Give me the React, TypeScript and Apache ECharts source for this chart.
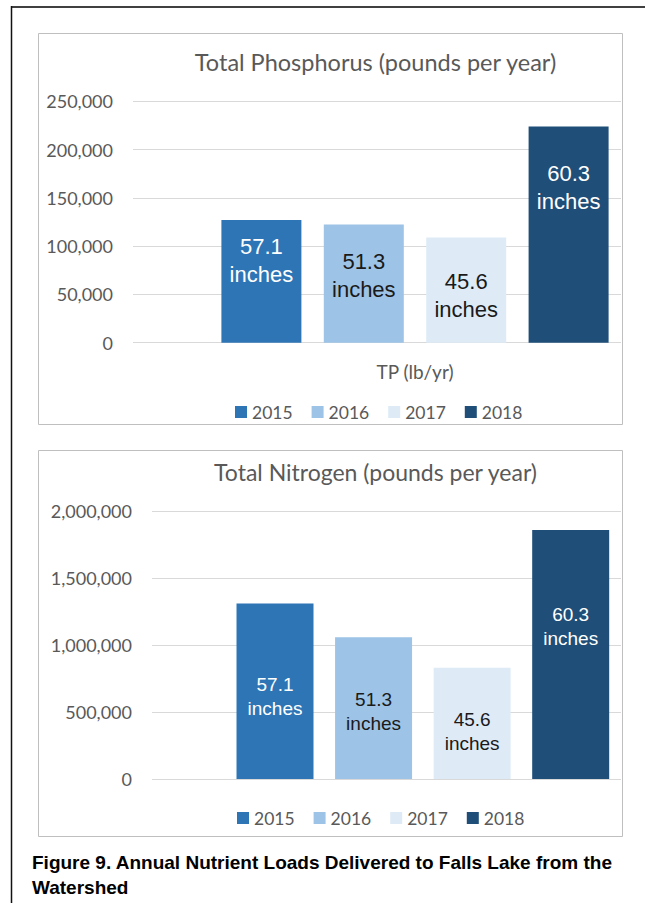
import React, { useEffect, useRef } from "react";
import * as echarts from "echarts";

// ---- data ----
const categories = ["TP (lb/yr)"];
const years = ["2015", "2016", "2017", "2018"];
const tpValues = [127000, 122500, 109000, 224000];
const tnValues = [1310000, 1057000, 831000, 1858000];
const rainfall = ["57.1", "51.3", "45.6", "60.3"];
const tpTitle = "Total Phosphorus (pounds per year)";
const tnTitle = "Total Nitrogen (pounds per year)";
const captionLines = [
  "Figure 9. Annual Nutrient Loads Delivered to Falls Lake from the",
  "Watershed",
];

// ---- styles ----
const barColors = ["#2E75B6", "#9DC3E6", "#DEEBF7", "#1F4E79"];
const labelColors = ["#ffffff", "#1a1a1a", "#1a1a1a", "#ffffff"];
const tpLabelDist = [12, 23, 30, 33.5];
const tnLabelDist = [69, 50, 39.5, 72];
const UI_FONT = "Lato, 'Open Sans', sans-serif";
const GRAY = "#595959";
const GRID_LINE = "#D9D9D9";

export default function App() {
  const ref = useRef<HTMLDivElement>(null);

  useEffect(() => {
    if (!ref.current) return;
    const chart = echarts.init(ref.current, null, { renderer: "svg" });
    const H = 903;
    const W = 645;

    const axisLabelStyle = {
      color: GRAY,
      fontFamily: UI_FONT,
      fontSize: 18,
    };
    const legendTextStyle = {
      color: GRAY,
      fontFamily: UI_FONT,
      fontSize: 17.5,
    };

    const makeBarSeries = (
      values: number[],
      axisIndex: number,
      barWidth: number,
      fontSize: number,
      lineHeight: number,
      dists: number[]
    ) =>
      years.map((y, i) => ({
        type: "bar",
        name: y,
        xAxisIndex: axisIndex,
        yAxisIndex: axisIndex,
        data: [values[i]],
        barWidth,
        barGap: "28%",
        itemStyle: { color: barColors[i] },
        label: {
          show: true,
          position: "insideTop",
          distance: dists[i],
          formatter: () => `${rainfall[i]}\ninches`,
          color: labelColors[i],
          fontFamily: "'Liberation Sans', Arial, sans-serif",
          fontSize,
          lineHeight,
          align: "center",
        },
      }));

    const option: any = {
      animation: false,
      graphic: [
        {
          type: "line",
          shape: { x1: 11, y1: 7, x2: 645, y2: 7 },
          style: { stroke: "#404040", lineWidth: 2 },
        },
        {
          type: "line",
          shape: { x1: 11.5, y1: 6, x2: 11.5, y2: 903 },
          style: { stroke: "#111", lineWidth: 1.5 },
        },
        {
          type: "rect",
          shape: { x: 38.5, y: 33.5, width: 584, height: 391 },
          style: { fill: "none", stroke: "#BFBFBF", lineWidth: 1 },
        },
        {
          type: "rect",
          shape: { x: 38.5, y: 450.5, width: 584, height: 386 },
          style: { fill: "none", stroke: "#BFBFBF", lineWidth: 1 },
        },
        {
          type: "text",
          x: 375.5,
          y: 62,
          style: {
            text: tpTitle,
            align: "center",
            verticalAlign: "middle",
            fill: GRAY,
            fontFamily: UI_FONT,
            fontSize: 23.5,
          },
        },
        {
          type: "text",
          x: 375.5,
          y: 472,
          style: {
            text: tnTitle,
            align: "center",
            verticalAlign: "middle",
            fill: GRAY,
            fontFamily: UI_FONT,
            fontSize: 23,
          },
        },
        ...captionLines.map((t, i) => ({
          type: "text",
          x: 32,
          y: 862.5 + i * 24.5,
          style: {
            text: t,
            align: "left",
            verticalAlign: "middle",
            fill: "#000",
            fontFamily: "'Liberation Sans', Arial, sans-serif",
            fontWeight: "bold",
            fontSize: 19,
          },
        })),
      ],
      legend: [
        {
          data: years,
          left: 235,
          top: 403,
          padding: 0,
          itemWidth: 12,
          itemHeight: 12,
          itemGap: 19,
          icon: "rect",
          textStyle: { ...legendTextStyle },
        },
        {
          data: years,
          left: 237,
          top: 809,
          padding: 0,
          itemWidth: 12,
          itemHeight: 12,
          itemGap: 19,
          icon: "rect",
          textStyle: { ...legendTextStyle },
        },
      ],
      grid: [
        { left: 133, right: W - 621, top: 101.3, bottom: H - 342.7 },
        { left: 209, right: W - 621, top: 101.3, bottom: H - 342.7 },
        { left: 152, right: W - 621, top: 511, bottom: H - 779 },
        { left: 224.7, right: W - 621, top: 511, bottom: H - 779 },
      ],
      xAxis: [
        { gridIndex: 0, type: "category", data: [""], show: false },
        {
          gridIndex: 1,
          type: "category",
          data: categories,
          axisLine: { show: false },
          axisTick: { show: false },
          axisLabel: { ...axisLabelStyle, fontSize: 19, margin: 19 },
        },
        { gridIndex: 2, type: "category", data: [""], show: false },
        {
          gridIndex: 3,
          type: "category",
          data: [""],
          axisLine: { show: false },
          axisTick: { show: false },
          axisLabel: { show: false },
        },
      ],
      yAxis: [
        {
          gridIndex: 0,
          type: "value",
          min: 0,
          max: 250000,
          interval: 50000,
          axisLine: { show: false },
          axisTick: { show: false },
          axisLabel: { ...axisLabelStyle, margin: 20 },
          splitLine: { lineStyle: { color: GRID_LINE, width: 1 } },
        },
        {
          gridIndex: 1,
          type: "value",
          min: 0,
          max: 250000,
          interval: 50000,
          show: false,
          splitLine: { show: false },
        },
        {
          gridIndex: 2,
          type: "value",
          min: 0,
          max: 2000000,
          interval: 500000,
          axisLine: { show: false },
          axisTick: { show: false },
          axisLabel: { ...axisLabelStyle, margin: 20 },
          splitLine: { lineStyle: { color: GRID_LINE, width: 1 } },
        },
        {
          gridIndex: 3,
          type: "value",
          min: 0,
          max: 2000000,
          interval: 500000,
          show: false,
          splitLine: { show: false },
        },
      ],
      series: [
        ...makeBarSeries(tpValues, 1, 80, 22, 28, tpLabelDist),
        ...makeBarSeries(tnValues, 3, 77, 19, 24, tnLabelDist),
      ],
    };

    chart.setOption(option);
    return () => chart.dispose();
  }, []);

  return (
    <div
      ref={ref}
      style={{
        position: "absolute",
        left: 0,
        top: 0,
        width: 645,
        height: 903,
        background: "#fff",
      }}
    />
  );
}
